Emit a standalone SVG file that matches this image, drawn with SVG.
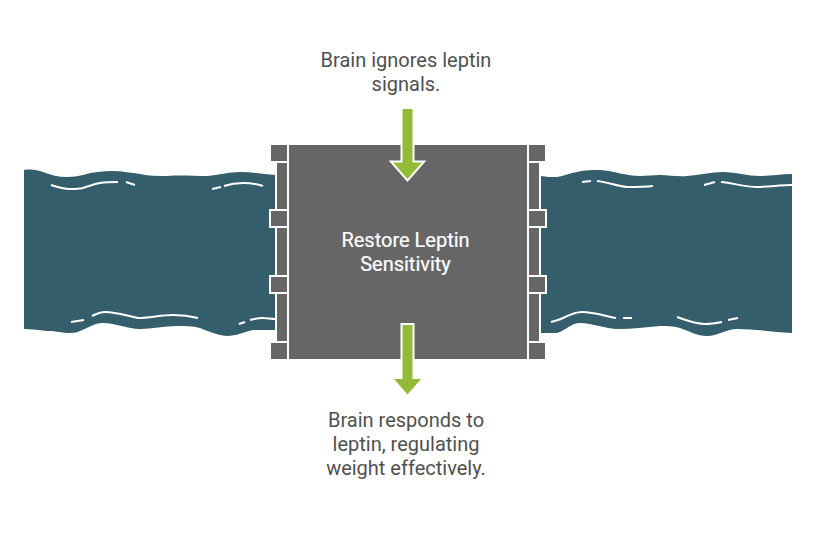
<svg xmlns="http://www.w3.org/2000/svg" width="828" height="540" viewBox="0 0 828 540">
<style>
.band{fill:#355e6c}
.ln{fill:none;stroke:#fff;stroke-width:2;stroke-linecap:butt}
.g{fill:#666}
.bx{fill:#666;stroke:#fff;stroke-width:2}
.ar{fill:#92bc38;stroke:#fff;stroke-width:4;paint-order:stroke}
text{font-family:Roboto,"Liberation Sans",sans-serif;font-size:20px;text-anchor:middle;fill:#505050}
#center text{fill:#fff}
</style>
<rect width="828" height="540" fill="#fff"/>
<g id="band-left">
<path class="band" d="M24 170C31 169 38 170 43 172C51 175 58 177 67 177C73 177 78 176 83 175C93 172 103 171 113 171C123 171 131 173 140 174C149 176 158 176 167 176C180 175 194 176 207 176C219 175 229 172 240 172C252 172 264 174 275 175V330C268 330 261 330 253 330C244 332 236 336 227 336C216 335 208 331 200 328C192 326 185 326 177 326C164 326 152 329 140 329C127 329 116 323 103 323C94 323 88 328 80 331C76 333 72 333 67 333C59 332 54 331 47 331C39 330 32 329 24 329Z"/>
<path class="ln" d="M51 185C57 187 63 189 70 189C75 189 79 189 83 188C89 186 94 184 100 183C106 182 112 182 118 182M126 182L135 185M212 189L221 187M224 186C230 184 237 183 243 183C250 183 257 184 263 186M71 322L84 320M92 316C96 314 100 312 105 312C117 312 127 316 138 318C150 318 161 315 173 315C182 315 190 316 198 318M239 324L245 322M250 320C254 319 259 318 263 318C267 318 271 319 275 319"/>
</g>
<g id="band-right">
<path class="band" d="M541 176C546 177 552 177 557 177C564 176 570 173 577 172C585 170 592 170 600 170C614 171 626 176 640 176C647 176 653 175 660 175C669 175 678 177 687 176C699 175 711 172 723 172C736 172 747 176 760 176C771 176 781 174 792 174V333C774 332 755 329 737 329C727 329 717 336 707 336C697 336 689 331 680 328C673 326 667 326 660 326C646 327 632 329 618 329C605 329 593 323 580 323C571 323 565 331 557 333C552 333 546 333 541 333Z"/>
<path class="ln" d="M582 182L591 181M597 181C607 182 617 186 627 187C636 187 644 187 653 186M704 185L715 182M721 182C733 183 745 187 757 187C769 187 780 185 792 185M551 322C555 321 559 320 563 318C569 315 575 312 582 312C594 312 605 316 616 318M623 318L632 318M677 317C686 320 695 324 705 324C711 324 717 323 722 322M728 320L738 318"/>
</g>
<g id="center">
<rect class="g" x="289" y="145" width="238" height="214"/>
<text x="405.500" y="247" stroke="#fff" stroke-width="0.2">Restore Leptin</text>
<text x="405.500" y="271" stroke="#fff" stroke-width="0.2">Sensitivity</text>
</g>
<g id="frame-left">
<rect class="g" x="271" y="145" width="16" height="16"/>
<rect class="g" x="277" y="163" width="10" height="178"/>
<rect class="g" x="271" y="343" width="16" height="16"/>
<rect class="bx" x="270" y="210" width="18" height="17"/>
<rect class="bx" x="270" y="276" width="18" height="17"/>
</g>
<g id="frame-right">
<rect class="g" x="529" y="145" width="16" height="16"/>
<rect class="g" x="529" y="163" width="10" height="178"/>
<rect class="g" x="529" y="343" width="16" height="16"/>
<rect class="bx" x="528" y="210" width="18" height="17"/>
<rect class="bx" x="528" y="276" width="18" height="17"/>
</g>
<g id="connectors">
<path class="ar" d="M402.500 109H412.500V162.500H422L407.500 179L393 162.500H402.500Z"/>
<path class="ar" d="M402.500 325H412.500V379H421L407.500 394.500L394 379H402.500Z"/>
</g>
<g id="label-top">
<text x="406" y="67">Brain ignores leptin</text>
<text x="406" y="91">signals.</text>
</g>
<g id="label-bottom">
<text x="406" y="427">Brain responds to</text>
<text x="406" y="451">leptin, regulating</text>
<text x="406" y="475">weight effectively.</text>
</g>
</svg>
